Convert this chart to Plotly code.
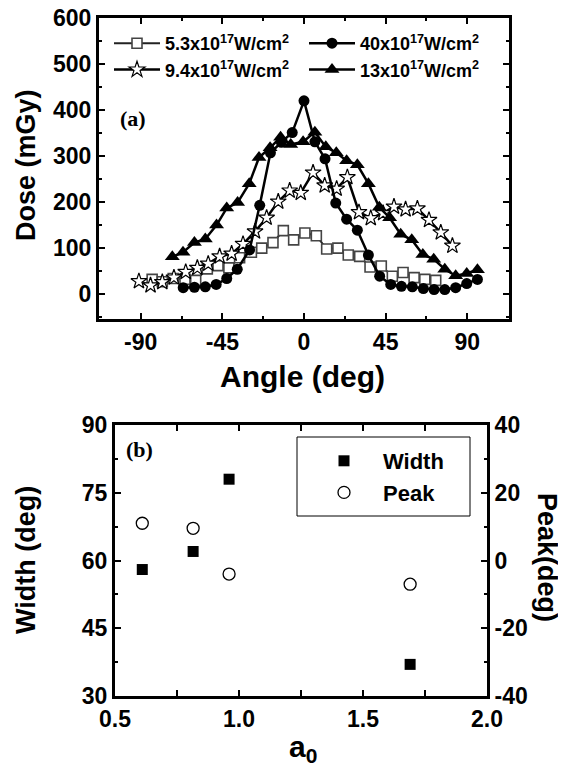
import plotly.graph_objects as go

# the page body adds an 8 px margin, so the figure is drawn 8 px smaller
OFF = 8
W, H = 566 - OFF, 779 - OFF

# ---- panel (a): dose vs angle, four intensities ----
ang_53 = [-83.7, -78.1, -72.1, -65.6, -59.7, -53.3, -47.4, -41.4, -35.5, -29.0, -23.3, -17.1, -11.4, -5.7,
          0.5, 6.8, 12.5, 18.7, 24.4, 30.7, 36.4, 42.6, 48.7, 54.6, 60.7, 66.6, 72.6]
dose_53 = [32, 27, 34, 32, 30, 55, 62, 57, 79, 91, 100, 112, 138, 118,
           133, 127, 98, 100, 85, 82, 59, 61, 39, 47, 36, 32, 30]

ang_94 = [-91.0, -84.6, -78.1, -71.7, -65.2, -58.8, -52.8, -46.5, -39.9, -33.6, -27.0, -20.6, -14.2, -7.9,
          -1.8, 5.0, 11.4, 18.0, 23.9, 30.3, 36.8, 43.6, 49.6, 56.0, 62.5, 68.9, 75.4, 81.8]
dose_94 = [28, 19, 26, 36, 48, 57, 66, 82, 88, 109, 136, 166, 201, 225,
           220, 264, 236, 229, 254, 178, 165, 176, 190, 184, 186, 161, 134, 105]

ang_40 = [-66.6, -60.4, -54.4, -48.4, -42.6, -36.8, -30.0, -24.4, -18.5, -12.5, -6.5, 0.0, 6.0, 11.6,
          17.5, 23.5, 29.4, 35.5, 41.7, 47.8, 53.7, 59.7, 65.8, 71.7, 77.6, 83.6, 89.7, 95.6]
dose_40 = [14, 15, 16, 21, 34, 54, 96, 193, 307, 330, 351, 420, 331, 294,
           198, 163, 139, 85, 39, 21, 17, 16, 12, 10, 10, 14, 23, 32]

ang_13 = [-72.6, -66.7, -60.4, -54.4, -48.2, -42.6, -36.6, -30.2, -24.8, -18.7, -12.9, -7.3, -0.5, 6.0,
          12.0, 17.8, 23.5, 29.4, 35.5, 41.5, 47.2, 53.3, 59.4, 65.5, 71.5, 77.6, 83.6, 89.7, 95.6]
dose_13 = [81, 91, 112, 120, 150, 187, 199, 240, 297, 318, 341, 325, 331, 352,
           320, 307, 290, 281, 240, 189, 166, 130, 118, 86, 76, 54, 40, 45, 53]

angle_ticks = [-90, -45, 0, 45, 90]
dose_ticks = [0, 100, 200, 300, 400, 500, 600]

# ---- panel (b): width and peak vs a0 ----
a0 = [0.61, 0.815, 0.96, 1.69]
width_deg = [58, 62, 78, 37]
peak_deg = [11, 9.5, -4, -7]

a0_ticks = [0.5, 1.0, 1.5, 2.0]
width_ticks = [30, 45, 60, 75, 90]
peak_ticks = [-40, -20, 0, 20, 40]


def px(x):
    # window pixel -> paper x
    return (x - OFF) / W


def py(y):
    # window pixel -> paper y
    return 1 - (y - OFF) / H


def bold_labels(vals, fmt="{:g}"):
    return ["<b>" + fmt.format(v) + "</b>" for v in vals]


BOLD = dict(family="Liberation Sans", color="black", weight="bold")
LINE = dict(color="black", width=2.5)

fig = go.Figure()

fig.add_trace(go.Scatter(
    x=ang_53, y=dose_53, mode="lines+markers", name="5.3x10<sup>17</sup>W/cm<sup>2</sup>",
    line=dict(color="#222", width=2),
    marker=dict(symbol="square", size=10, color="white", line=dict(color="#444", width=1.6)),
    legend="legend"))
fig.add_trace(go.Scatter(
    x=ang_94, y=dose_94, mode="lines+markers", name="9.4x10<sup>17</sup>W/cm<sup>2</sup>",
    line=LINE,
    marker=dict(symbol="star", size=12, color="white", line=dict(color="black", width=1.2)),
    legend="legend"))
fig.add_trace(go.Scatter(
    x=ang_13, y=dose_13, mode="lines+markers", name="13x10<sup>17</sup>W/cm<sup>2</sup>",
    line=LINE, marker=dict(symbol="triangle-up", size=13, color="black"),
    legend="legend2"))
fig.add_trace(go.Scatter(
    x=ang_40, y=dose_40, mode="lines+markers", name="40x10<sup>17</sup>W/cm<sup>2</sup>",
    line=LINE, marker=dict(symbol="circle", size=11, color="black"),
    legend="legend2"))

fig.add_trace(go.Scatter(
    x=a0, y=width_deg, mode="markers", name="Width",
    marker=dict(symbol="square", size=11, color="black"),
    xaxis="x2", yaxis="y2", legend="legend3"))
fig.add_trace(go.Scatter(
    x=a0, y=peak_deg, mode="markers", name="Peak",
    marker=dict(symbol="circle", size=12, color="white", line=dict(color="black", width=1.3)),
    xaxis="x2", yaxis="y3", legend="legend3"))

axis_common = dict(
    showline=True, linewidth=3, linecolor="black", showgrid=False, zeroline=False,
    ticks="inside", ticklen=6, tickwidth=2, tickcolor="black", automargin=False,
    ticklabeloverflow="allow",
    tickfont=dict(size=23, **BOLD),
)


def minor(step, start=0):
    return dict(ticks="inside", ticklen=3, tickwidth=2, tickcolor="black", dtick=step, tick0=start)


fig.update_layout(
    template="plotly_white",
    width=W, height=H, margin=dict(l=0, r=0, t=0, b=0, autoexpand=False),
    paper_bgcolor="white", plot_bgcolor="white", showlegend=True,
    xaxis=dict(domain=[px(99), px(509)], range=[-113, 113], anchor="y",
               tickvals=angle_ticks, ticktext=bold_labels(angle_ticks), mirror="allticks",
               minor=minor(22.5), **axis_common),
    # top kept a little below the page edge so the "600" label is not clipped
    yaxis=dict(domain=[py(319), py(18)], range=[-54, 600], anchor="x",
               tickvals=dose_ticks, ticktext=bold_labels(dose_ticks), mirror="allticks",
               minor=minor(50), **axis_common),
    xaxis2=dict(domain=[px(115), px(487)], range=[0.5, 2.0], anchor="y2",
                tickvals=a0_ticks, ticktext=bold_labels(a0_ticks, "{:.1f}"), mirror="allticks",
                minor=minor(0.25, 0.5), **axis_common),
    yaxis2=dict(domain=[py(696), py(425)], range=[30, 90], anchor="x2",
                tickvals=width_ticks, ticktext=bold_labels(width_ticks),
                minor=minor(7.5, 30), **axis_common),
    yaxis3=dict(range=[-40, 40], anchor="x2", overlaying="y2", side="right",
                tickvals=peak_ticks, ticktext=bold_labels(peak_ticks),
                minor=minor(10), **axis_common),
    legend=dict(x=px(109), y=py(25), xanchor="left", yanchor="top", bgcolor="rgba(0,0,0,0)",
                font=dict(size=18, **BOLD), itemwidth=46, tracegroupgap=0),
    legend2=dict(x=px(304), y=py(25), xanchor="left", yanchor="top", bgcolor="rgba(0,0,0,0)",
                 font=dict(size=18, **BOLD), itemwidth=46, tracegroupgap=0,
                 traceorder="reversed"),
    legend3=dict(x=px(305), y=py(440), xanchor="left", yanchor="top", bgcolor="rgba(0,0,0,0)",
                 font=dict(size=22, **BOLD), itemwidth=68),
)

# frame of the (b) legend
fig.add_shape(type="rect", xref="paper", yref="paper",
              x0=px(297), x1=px(470), y0=py(516), y1=py(437),
              line=dict(color="black", width=1), fillcolor="rgba(0,0,0,0)", layer="below")

title_font = dict(size=27, **BOLD)
title_font_h = dict(size=30, **BOLD)
annotations = [
    dict(text="Dose (mGy)", x=px(26), y=py(165), textangle=-90, font=title_font),
    dict(text="Angle (deg)", x=px(302), y=py(376), font=title_font_h),
    dict(text="Width (deg)", x=px(26), y=py(560), textangle=-90, font=title_font),
    dict(text="Peak(deg)", x=px(547), y=py(557), textangle=90, font=title_font),
    dict(text="a<sub>0</sub>", x=px(303), y=py(748), font=title_font_h),
    dict(text="(a)", x=px(133), y=py(119),
         font=dict(family="Liberation Serif", size=22, color="black", weight="bold")),
    dict(text="(b)", x=px(139), y=py(450),
         font=dict(family="Liberation Serif", size=22, color="black", weight="bold")),
]
for a in annotations:
    fig.add_annotation(xref="paper", yref="paper", showarrow=False,
                       xanchor="center", yanchor="middle", **a)

fig.write_html("out.html")
